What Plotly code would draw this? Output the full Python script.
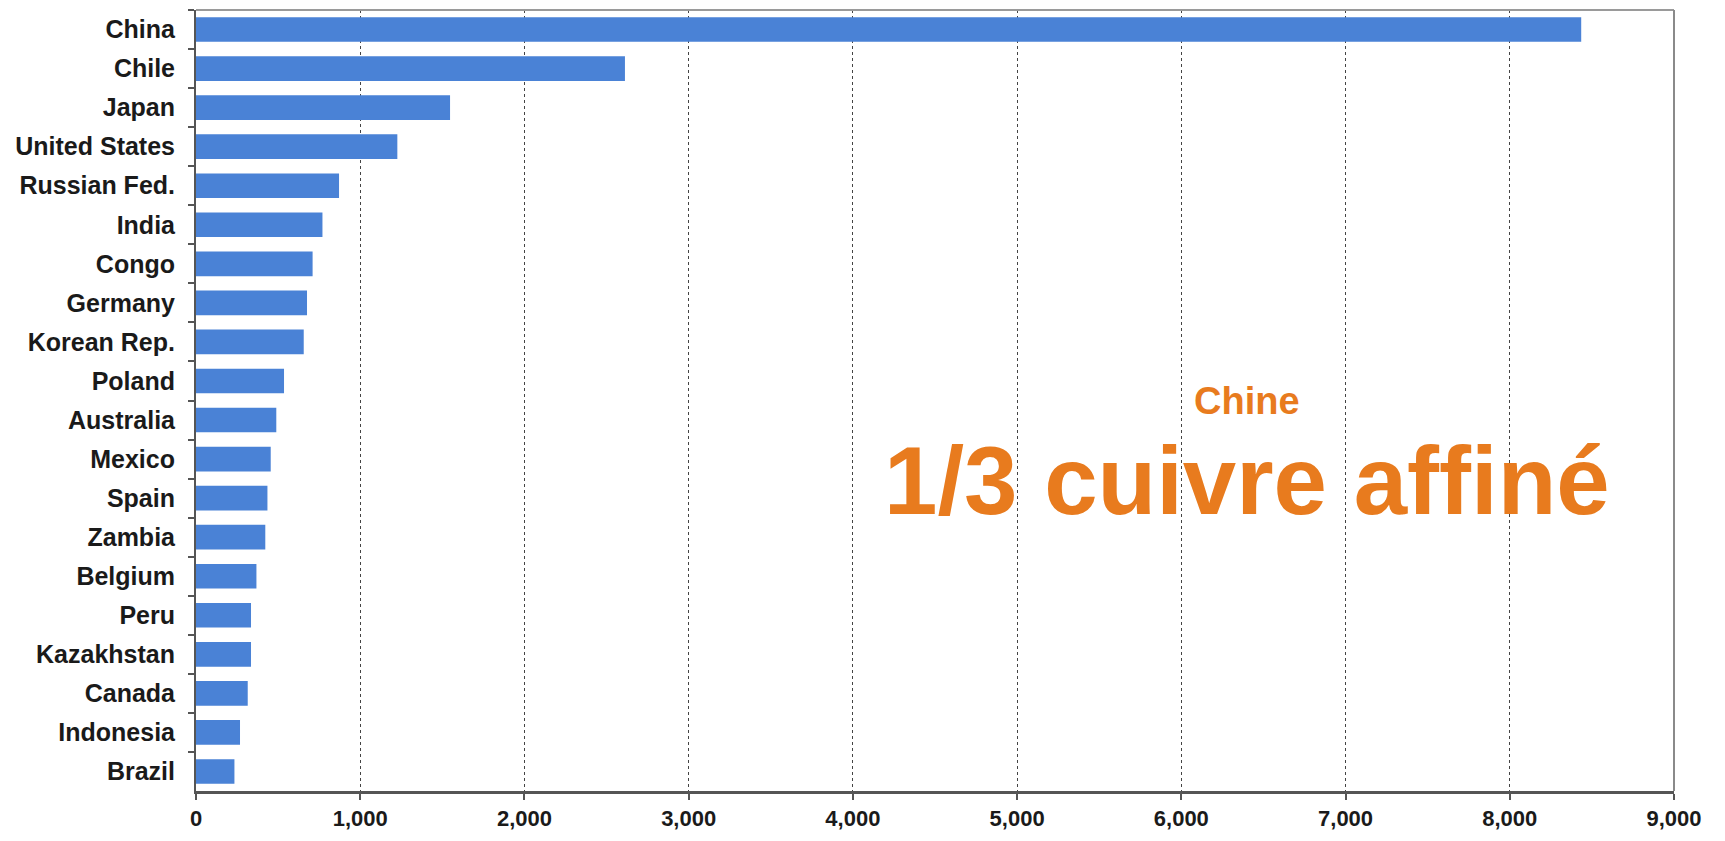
import plotly.graph_objects as go

countries = ["China", "Chile", "Japan", "United States", "Russian Fed.", "India", "Congo",
             "Germany", "Korean Rep.", "Poland", "Australia", "Mexico", "Spain", "Zambia",
             "Belgium", "Peru", "Kazakhstan", "Canada", "Indonesia", "Brazil"]
values = [8435, 2612, 1547, 1226, 871, 770, 710, 676, 656, 536, 489, 455, 435, 422,
          368, 335, 335, 315, 268, 234]
x_ticks = [0, 1000, 2000, 3000, 4000, 5000, 6000, 7000, 8000, 9000]
x_tick_labels = ["0", "1,000", "2,000", "3,000", "4,000", "5,000", "6,000", "7,000", "8,000", "9,000"]

FONT = "Liberation Sans, Arial, sans-serif"

fig = go.Figure(go.Bar(
    x=values, y=countries, orientation="h",
    marker=dict(color="#4a82d6", line=dict(width=0)),
    width=0.63,
))

plot_top, plot_bottom = 10, 791
def ypaper(py):
    return (plot_bottom - py) / (plot_bottom - plot_top)

fig.update_layout(
    width=1725, height=841,
    margin=dict(l=196, r=51, t=10, b=50),
    paper_bgcolor="white", plot_bgcolor="white",
    showlegend=False,
    font=dict(family=FONT, color="#1a1a1a"),
    xaxis=dict(
        range=[0, 9000], tickvals=x_ticks, ticktext=x_tick_labels,
        showgrid=True, gridcolor="#444444", griddash="dot", gridwidth=1.3,
        showline=True, linecolor="#555555", linewidth=3,
        ticks="outside", ticklen=6, tickcolor="#555555", tickwidth=2,
        tickfont=dict(family=FONT, size=22, color="#1a1a1a", weight="bold"),
        zeroline=False, fixedrange=True,
    ),
    yaxis=dict(
        categoryorder="array", categoryarray=countries, autorange="reversed",
        showline=True, linecolor="#555555", linewidth=2,
        ticks="outside", tickson="boundaries", ticklen=6, tickcolor="#555555", tickwidth=2,
        ticklabelstandoff=14,
        tickfont=dict(family=FONT, size=25, color="#1a1a1a", weight="bold"),
        showgrid=False, fixedrange=True,
    ),
    shapes=[
        dict(type="line", xref="paper", yref="paper", x0=0, x1=1, y0=1, y1=1,
             line=dict(color="#9a9a9a", width=2)),
        dict(type="line", xref="paper", yref="paper", x0=1, x1=1, y0=0, y1=1,
             line=dict(color="#8a8a8a", width=2)),
    ],
    annotations=[
        dict(text="<b>Chine</b>", x=6400, y=ypaper(424), xref="x", yref="paper",
             showarrow=False, font=dict(family=FONT, size=38, color="#e87b1e"),
             xanchor="center", yanchor="bottom"),
        dict(text="<b>1/3 cuivre affiné</b>", x=6400, y=ypaper(425), xref="x", yref="paper",
             showarrow=False, font=dict(family=FONT, size=96, color="#e87b1e"),
             xanchor="center", yanchor="top"),
    ],
)

fig.write_html("out.html")
